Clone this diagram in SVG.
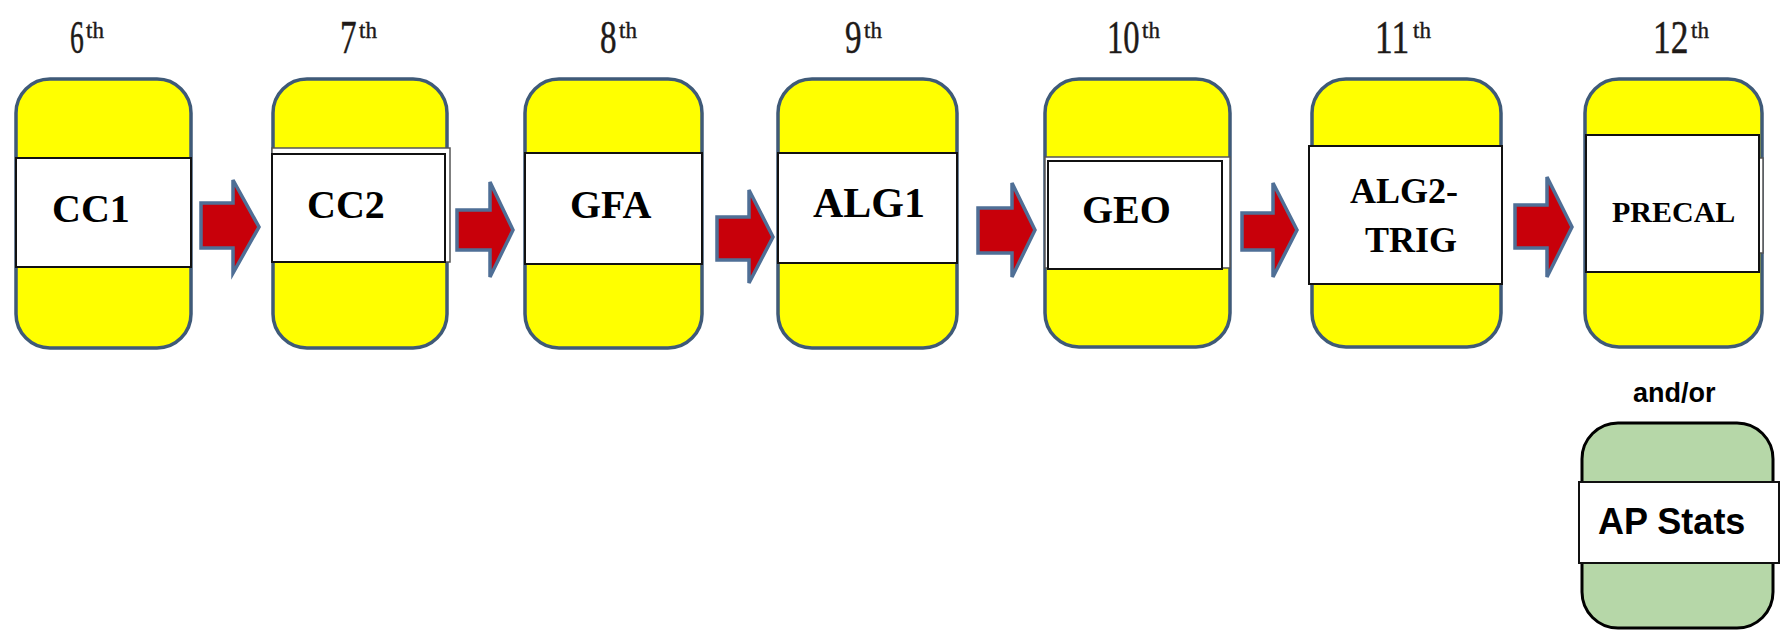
<svg xmlns="http://www.w3.org/2000/svg" width="1783" height="632" viewBox="0 0 1783 632">
  <style>
    .box { fill: #ffff00; stroke: #3f5a78; stroke-width: 3.5; }
    .green { fill: #b6d7a8; stroke: #000; stroke-width: 3; }
    .band { fill: #fff; stroke: #111; stroke-width: 2; }
    .band-thin { fill: #fff; stroke: #555; stroke-width: 1.5; }
    .name { font-family: "Liberation Serif", "Times New Roman", serif; font-weight: bold; font-size: 40px; fill: #000; }
    .grade { font-family: "Liberation Serif", "Times New Roman", serif; font-size: 46px; fill: #1e1a18; stroke: #1e1a18; stroke-width: 0.5; }
    .sup { font-family: "Liberation Serif", "Times New Roman", serif; font-size: 23px; fill: #1e1a18; stroke: #1e1a18; stroke-width: 0.4; }
    .sans { font-family: "Liberation Sans", Arial, sans-serif; font-weight: bold; fill: #000; }
    .arrow { fill: #c8000a; stroke: #4f6f96; stroke-width: 3.5; stroke-linejoin: miter; }
  </style>

  <!-- grade headings: condensed numeral plus raised "th" -->
  <g id="grades">
    <text class="grade" transform="translate(70,53) scale(0.6,1)">6</text><text class="sup" x="86" y="38">th</text>
    <text class="grade" transform="translate(340,53) scale(0.72,1)">7</text><text class="sup" x="359" y="38">th</text>
    <text class="grade" transform="translate(600,53) scale(0.72,1)">8</text><text class="sup" x="619" y="38">th</text>
    <text class="grade" transform="translate(845,53) scale(0.72,1)">9</text><text class="sup" x="864" y="38">th</text>
    <text class="grade" transform="translate(1107,53) scale(0.71,1)">10</text><text class="sup" x="1142" y="38">th</text>
    <text class="grade" transform="translate(1375,53) scale(0.77,1)">11</text><text class="sup" x="1413" y="38">th</text>
    <text class="grade" transform="translate(1653,53) scale(0.77,1)">12</text><text class="sup" x="1691" y="38">th</text>
  </g>

  <!-- course nodes -->
  <g id="cc1">
    <rect class="box" x="16" y="79" width="175" height="269" rx="34"/>
    <rect class="band" x="16" y="158" width="175" height="109"/>
    <text class="name" x="52" y="222">CC1</text>
  </g>
  <g id="cc2">
    <rect class="box" x="273" y="79" width="174" height="269" rx="34"/>
    <rect class="band-thin" x="272" y="148" width="178" height="114"/>
    <rect class="band" x="272" y="154" width="173" height="108"/>
    <text class="name" x="307" y="218">CC2</text>
  </g>
  <g id="gfa">
    <rect class="box" x="525" y="79" width="177" height="269" rx="34"/>
    <rect class="band" x="525" y="153" width="177" height="111"/>
    <text class="name" x="570" y="218">GFA</text>
  </g>
  <g id="alg1">
    <rect class="box" x="778" y="79" width="179" height="269" rx="34"/>
    <rect class="band" x="778" y="153" width="179" height="110"/>
    <text class="name" x="813" y="217" style="font-size:42px">ALG1</text>
  </g>
  <g id="geo">
    <rect class="box" x="1045" y="79" width="185" height="268" rx="34"/>
    <rect class="band-thin" x="1045" y="157" width="185" height="111"/>
    <rect class="band" x="1048" y="161" width="174" height="108"/>
    <text class="name" x="1082" y="223">GEO</text>
  </g>
  <g id="alg2-trig">
    <rect class="box" x="1312" y="79" width="189" height="268" rx="34"/>
    <rect class="band" x="1309" y="146" width="193" height="138"/>
    <text class="name" x="1350" y="203" style="font-size:36px">ALG2-</text>
    <text class="name" x="1365" y="252" style="font-size:36px">TRIG</text>
  </g>
  <g id="precal">
    <rect class="box" x="1585" y="79" width="177" height="268" rx="34"/>
    <rect class="band-thin" x="1586" y="158" width="177" height="95"/>
    <rect class="band" x="1586" y="135" width="173" height="137"/>
    <text class="name" x="1612" y="222" style="font-size:30px">PRECAL</text>
  </g>

  <text class="sans" x="1633" y="402" style="font-size:27px">and/or</text>

  <g id="ap-stats">
    <rect class="green" x="1582" y="423" width="191" height="205" rx="36"/>
    <rect class="band" x="1579" y="482" width="200" height="81"/>
    <text class="sans" x="1598" y="534" style="font-size:36px">AP Stats</text>
  </g>

  <!-- block arrows between grades -->
  <g id="connectors">
    <path class="arrow" d="M201,203 H233 V180 L259,227 L233,273 V248 H201 Z"/>
    <path class="arrow" d="M457,210 H490 V182 L513,230 L490,277 V250 H457 Z"/>
    <path class="arrow" d="M717,217 H749 V190 L773,237 L749,283 V260 H717 Z"/>
    <path class="arrow" d="M978,208 H1012 V183 L1035,230 L1012,277 V253 H978 Z"/>
    <path class="arrow" d="M1242,213 H1273 V183 L1297,230 L1273,277 V250 H1242 Z"/>
    <path class="arrow" d="M1515,205 H1547 V177 L1572,227 L1547,277 V248 H1515 Z"/>
  </g>
</svg>
